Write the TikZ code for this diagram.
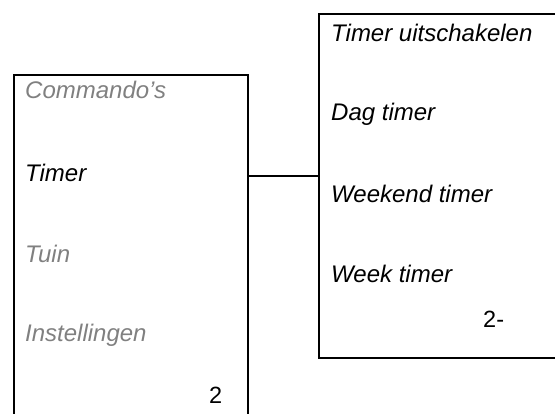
\documentclass[tikz,border=0pt]{standalone}
\usepackage{fontspec}
\setmainfont{Liberation Sans}
\definecolor{menugray}{RGB}{128,128,128}
\begin{document}
\begin{tikzpicture}[x=1pt,y=-1pt,
  box/.style={draw=black,line width=2.2pt,anchor=north west,inner sep=0pt},
  item/.style={anchor=base west,inner sep=0pt,font=\fontsize{24}{28}\selectfont\itshape},
  dim/.style={item,text=menugray},
  num/.style={anchor=base west,inner sep=0pt,font=\fontsize{23.5}{28}\selectfont}]
\useasboundingbox (0,0) rectangle (555,414);
\node[box,minimum width=234pt,minimum height=360pt] (L) at (13,74) {};
\node[box,minimum width=260pt,minimum height=344pt] (R) at (318,13) {};
\node[dim] (c1) at (25,99) {Commando’s};
\node[item] (c2) at (25,182) {Timer};
\node[dim] (c3) at (25,263) {Tuin};
\node[dim] (c4) at (25,342) {Instellingen};
\node[num] (n1) at (209,404) {2};
\node[item] (r1) at (331,42) {Timer uitschakelen};
\node[item] (r2) at (331,121) {Dag timer};
\node[item] (r3) at (331,203) {Weekend timer};
\node[item] (r4) at (331,283) {Week timer};
\node[num] (n2) at (483,328) {2-};
\coordinate (j) at (247,176);
\draw[line width=1.6pt] (j) -- (j -| R.west);
\end{tikzpicture}
\end{document}
